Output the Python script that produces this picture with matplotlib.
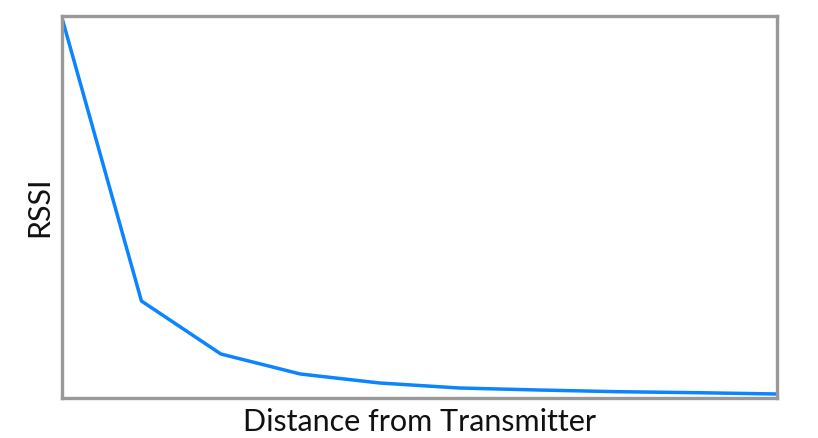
import matplotlib
matplotlib.use("Agg")
import matplotlib.pyplot as plt

distance = [0, 1, 2, 3, 4, 5, 6, 7, 8, 9]
rssi = [380, 97, 44, 24, 15, 10, 8, 6.3, 5.3, 4]

fig = plt.figure(figsize=(8.18, 4.38), dpi=100)
ax = fig.add_axes([62/818, 1-398/438, (777-62)/818, (398-16)/438])
ax.plot(distance, rssi, color="#0A84FF", lw=2.5, solid_joinstyle="miter")
ax.set_xlim(0, 9)
ax.set_ylim(0, 382)
ax.set_xticks([])
ax.set_yticks([])
for s in ax.spines.values():
    s.set_color("#999999")
    s.set_linewidth(2.4)
fam = ["Lato", "DejaVu Sans"]
ax.set_xlabel("Distance from Transmitter", fontsize=22, family=fam, labelpad=7, color="#111111")
ax.set_ylabel("RSSI", fontsize=22, family=fam, labelpad=6, color="#111111")
fig.savefig("out.png", dpi=100)
